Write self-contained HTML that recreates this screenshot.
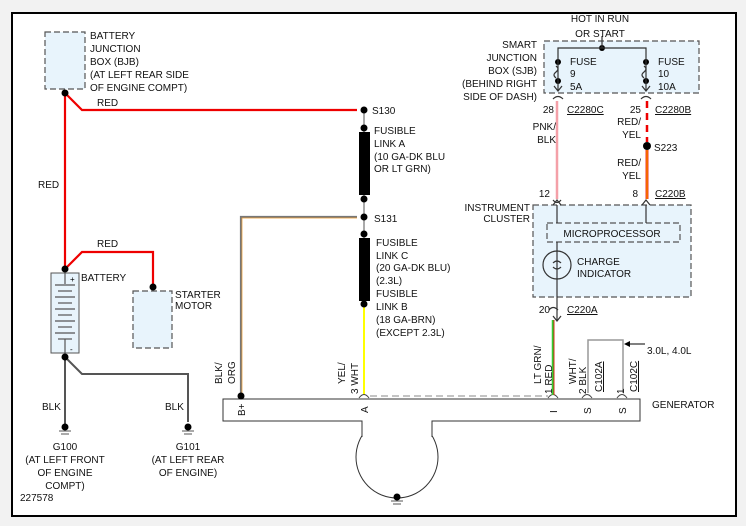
<!DOCTYPE html>
<html><head><meta charset="utf-8"><style>
html,body{margin:0;padding:0;background:#f4f4f4;}
svg{display:block;font-family:"Liberation Sans",sans-serif;font-size:10px;}
</style></head><body>
<svg width="746" height="526" viewBox="0 0 746 526" xmlns="http://www.w3.org/2000/svg">
<rect x="0" y="0" width="746" height="526" fill="#f2f2f2"/>
<rect x="12" y="13" width="724" height="503" fill="#fff" stroke="#000" stroke-width="2"/>
<g fill="#e8f4fc" stroke="#555" stroke-dasharray="6,3" stroke-width="1.2">
<rect x="45" y="32" width="40" height="57"/>
<rect x="133" y="291" width="39" height="57"/>
<rect x="544" y="41" width="155" height="52"/>
<rect x="533" y="205" width="158" height="92"/>
<rect x="547" y="223" width="133" height="19"/>
</g>
<g fill="none" stroke="#e00" stroke-width="2.2">
<polyline points="65,93 82,110 357,110"/>
<line x1="65" y1="93" x2="65" y2="269"/>
<polyline points="65,269 82,252 153,252 153,287"/>
</g>
<rect x="51" y="273" width="28" height="80" fill="#e8f4fc" stroke="#555"/>
<g stroke="#555" stroke-width="1.2">
<line x1="65" y1="273" x2="65" y2="284"/><line x1="55" y1="285" x2="75" y2="285"/>
<line x1="58" y1="291" x2="72" y2="291"/><line x1="55" y1="297" x2="75" y2="297"/>
<line x1="58" y1="303" x2="72" y2="303"/><line x1="55" y1="309" x2="75" y2="309"/>
<line x1="58" y1="315" x2="72" y2="315"/><line x1="55" y1="321" x2="75" y2="321"/>
<line x1="58" y1="327" x2="72" y2="327"/><line x1="55" y1="333" x2="75" y2="333"/>
<line x1="58" y1="339" x2="72" y2="339"/><line x1="65" y1="339" x2="65" y2="353"/>
</g>
<text x="70" y="282" font-size="8">+</text><text x="70" y="352" font-size="8">-</text>
<g fill="none" stroke="#555" stroke-width="2">
<line x1="65" y1="357" x2="65" y2="425"/>
<polyline points="65,357 82,374 188,374 188,422"/>
</g>
<g stroke="#555"><line x1="59" y1="431" x2="71" y2="431"/><line x1="61" y1="434" x2="69" y2="434"/><line x1="182" y1="431" x2="194" y2="431"/><line x1="184" y1="434" x2="192" y2="434"/>
<line x1="391" y1="501" x2="403" y2="501"/><line x1="393" y1="504" x2="401" y2="504"/></g>
<g stroke="#555" stroke-width="1"><line x1="364" y1="110" x2="364" y2="132"/><line x1="364" y1="195" x2="364" y2="238"/></g>
<rect x="359" y="132" width="11" height="63" fill="#000"/>
<rect x="359" y="238" width="11" height="63" fill="#000"/>
<line x1="364" y1="304" x2="364" y2="395" stroke="#ff0" stroke-width="2"/>
<polyline points="357,217 241,217 241,398" fill="none" stroke="#777" stroke-width="2.2"/>
<polyline points="357,218 242,218 242,398" fill="none" stroke="#f5a030" stroke-width="0.7"/>
<!-- generator -->
<circle cx="397" cy="457" r="41" fill="#fff" stroke="#333"/>
<polygon points="223,399 640,399 640,421 432,421 432,437 362,437 362,421 223,421" fill="#fff"/>
<path d="M362,437 V421 H223 V399 H640 V421 H432 V437" fill="none" stroke="#333"/>
<line x1="370" y1="396" x2="548" y2="396" stroke="#888" stroke-dasharray="7,4"/>
<g fill="none" stroke="#444"><path d="M359,398 Q364,391 369,398"/><path d="M548,398 Q553,391 558,398"/><path d="M582,398 Q587,391 592,398"/><path d="M617,398 Q622,391 627,398"/></g>
<polyline points="588,393 588,340 623,340 623,393" fill="none" stroke="#999" stroke-width="1.5"/>
<line x1="645" y1="344" x2="628" y2="344" stroke="#000"/><path d="M624,344 L630,341 L630,347 Z"/>
<g fill="#000">
<circle cx="65" cy="93" r="3.5"/><circle cx="65" cy="269" r="3.5"/><circle cx="153" cy="287" r="3.5"/>
<circle cx="65" cy="357" r="3.5"/><circle cx="65" cy="427" r="3.5"/><circle cx="188" cy="427" r="3.5"/>
<circle cx="364" cy="110" r="3.5"/><circle cx="364" cy="128" r="3.5"/><circle cx="364" cy="199" r="3.5"/>
<circle cx="364" cy="217" r="3.5"/><circle cx="364" cy="234" r="3.5"/><circle cx="364" cy="304" r="3.5"/>
<circle cx="241" cy="396" r="3.5"/><circle cx="397" cy="497" r="3.5"/>
<circle cx="602" cy="48" r="3"/><circle cx="558" cy="62" r="3"/><circle cx="558" cy="81" r="3"/>
<circle cx="646" cy="62" r="3"/><circle cx="646" cy="81" r="3"/><circle cx="647" cy="146" r="4"/>
</g>
<g fill="none" stroke="#333" stroke-width="1.2">
<polyline points="558,90 558,48 646,48 646,90"/><line x1="602" y1="36" x2="602" y2="48"/>
<path d="M554,86 L558,91 L562,86"/><path d="M642,86 L646,91 L650,86"/>
<path d="M553,99 Q558,94 563,99"/><path d="M641,99 Q646,94 651,99"/>
<path d="M553,205 L557,200 L561,205"/><path d="M642,205 L646,200 L650,205"/>
<path d="M553,200 Q557,205 561,200"/>
<path d="M553,316 L557,321 L561,316"/><path d="M549,310 Q553,305 558,310"/>
<line x1="557" y1="205" x2="557" y2="223"/><line x1="646" y1="205" x2="646" y2="223"/>
<line x1="557" y1="242" x2="557" y2="320"/>
<circle cx="557" cy="265" r="14"/>
<path d="M556,66 q4,3 0,6 q-4,3 0,6"/><path d="M644,66 q4,3 0,6 q-4,3 0,6"/><path d="M553,263 q4,-4 8,0 M553,267 q4,4 8,0"/>
</g>
<line x1="557" y1="101" x2="557" y2="199" stroke="#f4a0a8" stroke-width="2.5"/>
<line x1="647" y1="101" x2="647" y2="142" stroke="#e00" stroke-width="2.5" stroke-dasharray="7,5"/>
<line x1="647" y1="150" x2="647" y2="199" stroke="#e00" stroke-width="2.8"/>
<line x1="647" y1="150" x2="647" y2="199" stroke="#ff0" stroke-width="0.8"/>
<line x1="553" y1="320" x2="553" y2="395" stroke="#3c3" stroke-width="2.5"/>
<line x1="554" y1="320" x2="554" y2="395" stroke="#e00" stroke-width="0.8"/>
<g fill="#111">
<text x="90" y="39">BATTERY</text><text x="90" y="52">JUNCTION</text><text x="90" y="65">BOX (BJB)</text><text x="90" y="78">(AT LEFT REAR SIDE</text><text x="90" y="91">OF ENGINE COMPT)</text>
<text x="97" y="106">RED</text><text x="38" y="188">RED</text><text x="97" y="247">RED</text>
<text x="81" y="281">BATTERY</text><text x="175" y="298">STARTER</text><text x="175" y="309">MOTOR</text>
<text x="42" y="410">BLK</text><text x="165" y="410">BLK</text>
<g text-anchor="middle"><text x="65" y="450">G100</text><text x="65" y="463">(AT LEFT FRONT</text><text x="65" y="476">OF ENGINE</text><text x="65" y="489">COMPT)</text>
<text x="188" y="450">G101</text><text x="188" y="463">(AT LEFT REAR</text><text x="188" y="476">OF ENGINE)</text>
<text x="600" y="22">HOT IN RUN</text><text x="600" y="37">OR START</text>
<text x="612" y="237">MICROPROCESSOR</text></g>
<text x="20" y="501">227578</text>
<text x="372" y="114">S130</text>
<text x="374" y="134">FUSIBLE</text><text x="374" y="147">LINK A</text><text x="374" y="160">(10 GA-DK BLU</text><text x="374" y="172">OR LT GRN)</text>
<text x="374" y="222">S131</text>
<text x="376" y="246">FUSIBLE</text><text x="376" y="259">LINK C</text><text x="376" y="271">(20 GA-DK BLU)</text><text x="376" y="284">(2.3L)</text>
<text x="376" y="297">FUSIBLE</text><text x="376" y="310">LINK B</text><text x="376" y="323">(18 GA-BRN)</text><text x="376" y="336">(EXCEPT 2.3L)</text>
<g text-anchor="end"><text x="537" y="48">SMART</text><text x="537" y="61">JUNCTION</text><text x="537" y="74">BOX (SJB)</text><text x="537" y="87">(BEHIND RIGHT</text><text x="537" y="100">SIDE OF DASH)</text>
<text x="554" y="113">28</text><text x="641" y="113">25</text>
<text x="556" y="130">PNK/</text><text x="556" y="143">BLK</text>
<text x="641" y="125">RED/</text><text x="641" y="138">YEL</text><text x="641" y="166">RED/</text><text x="641" y="179">YEL</text>
<text x="550" y="197">12</text><text x="638" y="197">8</text>
<text x="530" y="211">INSTRUMENT</text><text x="530" y="222">CLUSTER</text>
<text x="550" y="313">20</text></g>
<text x="570" y="65">FUSE</text><text x="570" y="77">9</text><text x="570" y="90">5A</text>
<text x="658" y="65">FUSE</text><text x="658" y="77">10</text><text x="658" y="90">10A</text>
<g text-decoration="underline"><text x="567" y="113">C2280C</text><text x="655" y="113">C2280B</text><text x="655" y="197">C220B</text><text x="567" y="313">C220A</text></g>
<text x="654" y="151">S223</text>
<text x="577" y="265">CHARGE</text><text x="577" y="277">INDICATOR</text>
<text x="647" y="354">3.0L, 4.0L</text><text x="652" y="408">GENERATOR</text>
<text transform="translate(245,416) rotate(-90)">B+</text>
<text transform="translate(368,413) rotate(-90)">A</text>
<text transform="translate(557,413) rotate(-90)">I</text>
<text transform="translate(591,414) rotate(-90)">S</text>
<text transform="translate(626,414) rotate(-90)">S</text>
<text transform="translate(222,384) rotate(-90)">BLK/</text><text transform="translate(235,384) rotate(-90)">ORG</text>
<text transform="translate(345,384) rotate(-90)">YEL/</text><text transform="translate(358,394) rotate(-90)">3 WHT</text>
<text transform="translate(541,384) rotate(-90)">LT GRN/</text><text transform="translate(552,394) rotate(-90)">1 RED</text>
<text transform="translate(576,384) rotate(-90)">WHT/</text><text transform="translate(586,394) rotate(-90)">2 BLK</text>
<text transform="translate(602,392) rotate(-90)" text-decoration="underline">C102A</text>
<text transform="translate(624,394) rotate(-90)">1</text>
<text transform="translate(637,392) rotate(-90)" text-decoration="underline">C102C</text>
</g>
</svg>
</body></html>
